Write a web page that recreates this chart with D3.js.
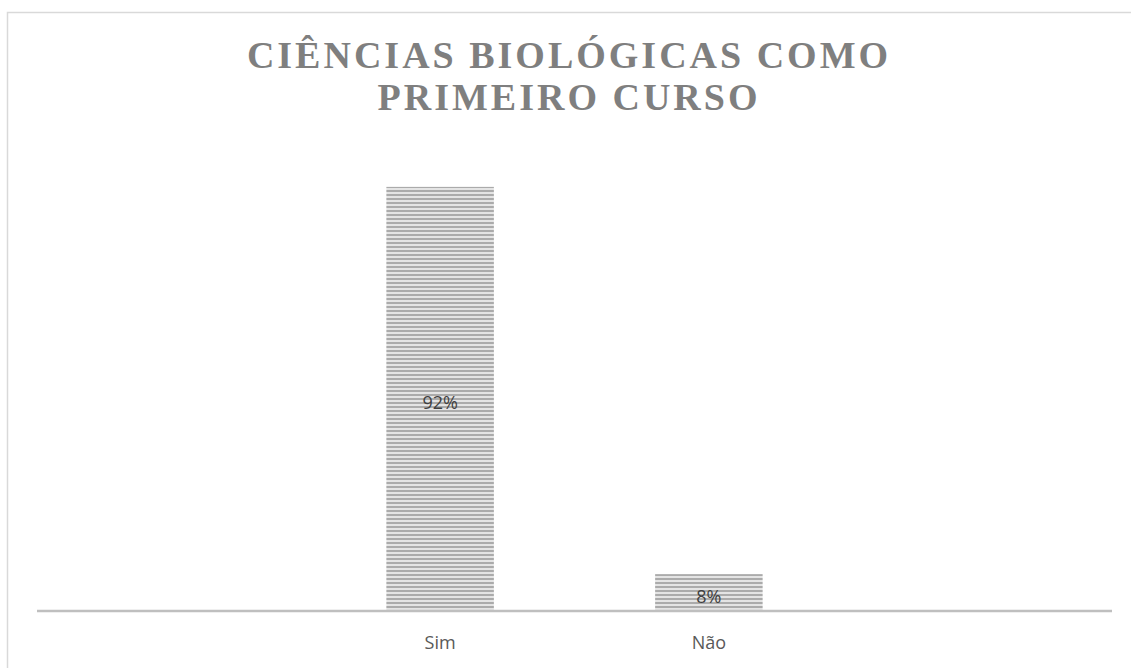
<!DOCTYPE html>
<html><head><meta charset="utf-8">
<script src="https://cdn.jsdelivr.net/npm/d3@7"></script>
<style>html,body{margin:0;padding:0;background:#fff;}svg{display:block;}</style>
</head><body>
<script>
const categories = ["Sim", "Não"];
const values = [92, 8];
const valueLabels = ["92%", "8%"];
const titleLines = ["CIÊNCIAS BIOLÓGICAS COMO", "PRIMEIRO CURSO"];

const W = 1131, H = 668;
const svg = d3.select("body").append("svg").attr("width", W).attr("height", H);

// stripe pattern
const defs = svg.append("defs");
const pat = defs.append("pattern").attr("id", "stripes").attr("patternUnits", "userSpaceOnUse")
  .attr("width", 8).attr("height", 4);
pat.append("rect").attr("width", 8).attr("height", 4).attr("fill", "#e4e4e4");
pat.append("rect").attr("y", 2).attr("width", 8).attr("height", 2).attr("fill", "#ababab");

// chart frame
svg.append("rect").attr("x", 7.5).attr("y", 12.5).attr("width", W).attr("height", H)
  .attr("fill", "#fff").attr("stroke", "#d9d9d9").attr("stroke-width", 1.5);

const x = d3.scaleBand().domain(categories).range([37, 1112]).paddingInner(0.6).paddingOuter(1.3);
const y = d3.scaleLinear().domain([0, 100]).range([611, 150]);

// title
const title = svg.append("text").attr("text-anchor", "middle")
  .attr("font-family", "'Liberation Serif', 'Times New Roman', serif")
  .attr("font-weight", "bold").attr("font-size", 38).attr("fill", "#7f7f7f")
  .attr("letter-spacing", 3);
titleLines.forEach((t, i) => {
  title.append("tspan").attr("x", 569).attr("y", 68 + i * 42).text(t);
});

// bars
svg.selectAll(".bar").data(categories).enter().append("rect")
  .attr("x", d => x(d)).attr("width", x.bandwidth())
  .attr("y", (d, i) => y(values[i])).attr("height", (d, i) => y(0) - y(values[i]))
  .attr("fill", "url(#stripes)");

// axis
const axis = svg.append("g").attr("transform", `translate(0,${y(0)})`)
  .call(d3.axisBottom(x).tickSize(0).tickPadding(25));
axis.select(".domain").attr("stroke", "#bfbfbf").attr("stroke-width", 2.5).attr("d", "M37,0H1112");
axis.selectAll("text").attr("font-family", "'Open Sans', 'Noto Sans', sans-serif")
  .attr("font-size", 18).attr("fill", "#595959");

// value labels
svg.selectAll(".lbl").data(categories).enter().append("text")
  .attr("x", d => x(d) + x.bandwidth() / 2)
  .attr("y", (d, i) => (y(values[i]) + y(0)) / 2 + 4)
  .attr("dy", "0.35em").attr("text-anchor", "middle")
  .attr("font-family", "'Open Sans', 'Noto Sans', sans-serif")
  .attr("font-size", 18).attr("fill", "#404040")
  .text((d, i) => valueLabels[i]);
</script>
</body></html>
